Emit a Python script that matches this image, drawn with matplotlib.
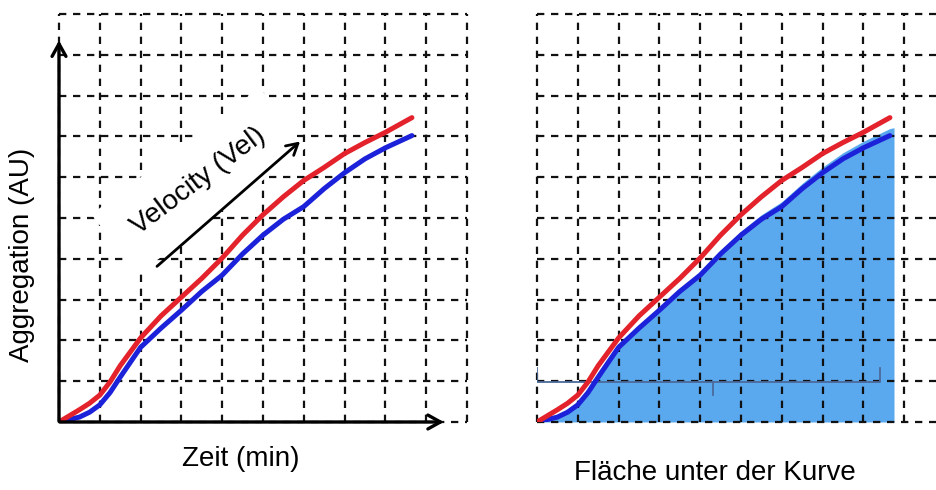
import matplotlib.pyplot as plt
import numpy as np

plt.rcParams['font.family'] = ['Liberation Sans', 'DejaVu Sans']

# curve readings (grid units, one grid cell = 1)
t = [0, 0.5, 0.75, 1, 1.25, 1.5, 2, 2.5, 3, 3.5, 4, 4.5, 5, 5.5, 6, 6.5, 7, 7.5, 8, 8.65]
red = [0, 0.3, 0.46, 0.66, 0.98, 1.38, 2.06, 2.6, 3.06, 3.52, 4.02, 4.58, 5.08, 5.52, 5.92, 6.24, 6.58, 6.85, 7.1, 7.46]
blue = [0, 0.12, 0.24, 0.42, 0.72, 1.1, 1.83, 2.3, 2.74, 3.2, 3.6, 4.12, 4.58, 4.97, 5.28, 5.72, 6.11, 6.45, 6.72, 7.02]

# bracket on the right panel
br_x = [0, 4.31, 8.4]
br_y = 0.98

W, H = 936, 490
fig = plt.figure(figsize=(W / 100, H / 100), dpi=100)

u = 40.8  # px per grid cell
ax1 = fig.add_axes([59 / W, 68 / H, 10 * u / W, 10 * u / H])
ax2 = fig.add_axes([537 / W, 68 / H, (W - 537) / W, 10 * u / H])

grid_kw = dict(color='#111111', lw=1.6, linestyles=[(0, (3.3, 3.0))], zorder=2, clip_on=False)

for ax, xmax, nv in [(ax1, 10, 11), (ax2, (W - 537) / u, 10)]:
    ax.set_xlim(0, xmax)
    ax.set_ylim(0, 10)
    ax.axis('off')
    ax.vlines(range(nv), 0, 10, **grid_kw)
    ax.hlines(range(11), 0, xmax if ax is ax2 else 10, **grid_kw)

# left panel
ax1.plot(t, blue, color='#1c22d9', lw=3.6, zorder=4, solid_capstyle='round')
ax1.plot(t, red, color='#e3222b', lw=3.6, zorder=5, solid_capstyle='round')
ax1.annotate('', xy=(9.5, 0), xytext=(-0.05, 0),
             arrowprops=dict(arrowstyle='->,head_length=0.9,head_width=0.5', lw=2.4, color='black'),
             zorder=6, annotation_clip=False)
ax1.annotate('', xy=(0, 9.42), xytext=(0, -0.05),
             arrowprops=dict(arrowstyle='->,head_length=0.9,head_width=0.5', lw=2.4, color='black'),
             zorder=6, annotation_clip=False)
ax1.text(3.42, 5.9, 'Velocity (Vel)', fontsize=20, rotation=37, ha='center', va='center',
         rotation_mode='anchor', zorder=3,
         bbox=dict(boxstyle='square,pad=0.9', fc='white', ec='none'))
ax1.annotate('', xy=(5.96, 6.92), xytext=(2.35, 3.77),
             arrowprops=dict(arrowstyle='->,head_length=0.8,head_width=0.45', lw=2.0, color='black'),
             zorder=6)
ax1.text(-0.9, 4.1, 'Aggregation (AU)', fontsize=20, rotation=90, ha='center', va='center')
ax1.text(4.45, -0.9, 'Zeit (min)', fontsize=20, ha='center', va='center')

# right panel
top = np.array(blue) + 0.02 * np.array(t)
ax2.fill_between(t + [8.75], 0, list(top) + [top[-1] + 0.02], color='#5aa8ee', lw=0, zorder=1)
ax2.plot(t, blue, color='#1c22d9', lw=3.6, zorder=4, solid_capstyle='round')
ax2.plot(t, red, color='#e3222b', lw=3.6, zorder=5, solid_capstyle='round')
ax2.plot([br_x[0], br_x[0], br_x[2], br_x[2]], [br_y + 0.35, br_y, br_y, br_y + 0.35],
         color='#4c6a9c', lw=1.3, zorder=3)
ax2.plot([br_x[1], br_x[1]], [br_y, br_y - 0.32], color='#4c6a9c', lw=1.3, zorder=3)
ax2.text(4.35, -1.25, 'Fläche unter der Kurve', fontsize=20, ha='center', va='center')

fig.savefig('out.png', dpi=100)
